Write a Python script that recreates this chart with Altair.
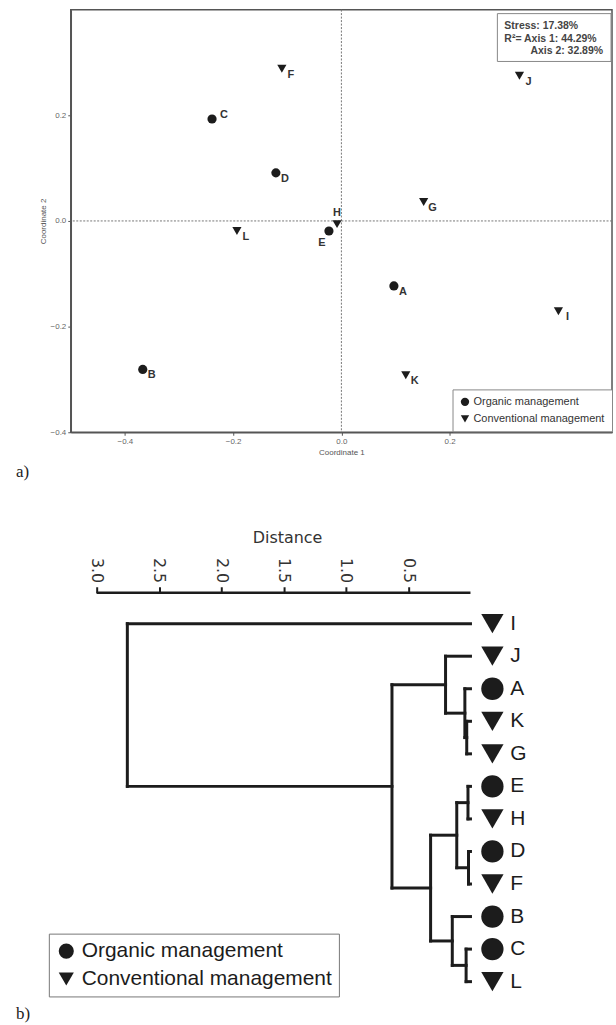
import altair as alt
import pandas as pd

# ---------------- panel a) NMDS ordination ----------------
sites = ["A", "B", "C", "D", "E", "F", "G", "H", "I", "J", "K", "L"]
coord1 = [0.097, -0.367, -0.239, -0.121, -0.023, -0.110, 0.152, -0.008, 0.401, 0.329, 0.119, -0.193]
coord2 = [-0.123, -0.281, 0.193, 0.091, -0.019, 0.288, 0.036, -0.006, -0.171, 0.275, -0.292, -0.019]
management = ["Organic management"] * 5 + ["Conventional management"] * 7
mgmt_levels = ["Organic management", "Conventional management"]
nmds_ticks = [-0.4, -0.2, 0.0, 0.2]
stress_lines = ["Stress: 17.38%", "R\u00b2= Axis 1: 44.29%", "Axis 2: 32.89%"]
panel_labels = ["a)", "b)"]

# ---------------- panel b) cluster dendrogram ----------------
leaf_order = ["I", "J", "A", "K", "G", "E", "H", "D", "F", "B", "C", "L"]
leaf_mgmt = ["Conventional management", "Conventional management", "Organic management",
             "Conventional management", "Conventional management", "Organic management",
             "Conventional management", "Organic management", "Conventional management",
             "Organic management", "Organic management", "Conventional management"]
merge_a = ["K", "A", "J", "E", "D", "EH", "C", "B", "EHDF", "JAKG", "I"]
merge_b = ["G", "KG", "AKG", "H", "F", "DF", "L", "CL", "BCL", "EHDFBCL", "JAKGEHDFBCL"]
merge_h = [0.03, 0.045, 0.20, 0.02, 0.016, 0.11, 0.035, 0.146, 0.32, 0.63, 2.754]
distance_ticks = [0.5, 1.0, 1.5, 2.0, 2.5, 3.0]

INK = "#1c1c1c"
FONT = "Liberation Sans"
W = 543
H1 = 424
H2 = 430

# ---------- build panel a ----------
nmds = pd.DataFrame({"site": sites, "c1": coord1, "c2": coord2, "mgmt": management})
label_place = {"C": "right", "H": "above", "E": "below-left"}
nmds["place"] = [label_place.get(s, "below-right") for s in sites]
place_offsets = {"below-right": (9, 6), "right": (12, -4), "above": (0, -11), "below-left": (-7, 12)}

shape_scale = alt.Scale(domain=mgmt_levels, range=["circle", "triangle-down"])
xs = alt.Scale(domain=[-0.5, 0.5], nice=False, zero=False)
ys = alt.Scale(domain=[-0.4, 0.4], nice=False, zero=False)

axis_style = dict(values=nmds_ticks, format=".1f", labelFontSize=8, titleFontSize=8,
                  titleFontWeight="normal", labelColor="#666", titleColor="#555",
                  tickSize=3, tickColor="#555", domainColor="#555", domainWidth=1.5,
                  labelPadding=2, titlePadding=3, labelFont=FONT, titleFont=FONT, grid=False)

zero_df = pd.DataFrame({"zero": [0.0]})
vline = alt.Chart(zero_df).mark_rule(color="#777", strokeWidth=1, strokeDash=[2, 1.5]).encode(
    x=alt.X("zero:Q", scale=xs))
hline = alt.Chart(zero_df).mark_rule(color="#777", strokeWidth=1, strokeDash=[2, 1.5]).encode(
    y=alt.Y("zero:Q", scale=ys))

points = alt.Chart(nmds).mark_point(filled=True, opacity=1, color=INK, size=85).encode(
    x=alt.X("c1:Q", scale=xs, axis=alt.Axis(title="Coordinate 1", **axis_style)),
    y=alt.Y("c2:Q", scale=ys, axis=alt.Axis(title="Coordinate 2", **axis_style)),
    shape=alt.Shape("mgmt:N", scale=shape_scale,
                    legend=alt.Legend(title=None, orient="none", legendX=383, legendY=381,
                                      strokeColor="#888", fillColor="white", padding=7,
                                      labelFontSize=11, labelFont=FONT, labelColor="#333",
                                      symbolSize=70, symbolFillColor=INK, symbolStrokeWidth=0,
                                      labelOffset=3, rowPadding=5, labelLimit=400)),
)

label_layers = []
for place, (dx, dy) in place_offsets.items():
    label_layers.append(
        alt.Chart(nmds).transform_filter(alt.datum.place == place)
        .mark_text(dx=dx, dy=dy, fontSize=11, fontWeight="bold", font=FONT, color="#333")
        .encode(x=alt.X("c1:Q", scale=xs), y=alt.Y("c2:Q", scale=ys), text="site:N")
    )

stats_box = alt.Chart(zero_df).mark_rect(fill="white", stroke="#888", strokeWidth=1).encode(
    x=alt.value(428), x2=alt.value(542), y=alt.value(4), y2=alt.value(52))
stats_text = [
    alt.Chart(zero_df).mark_text(text=stress_lines[0], align="left", baseline="middle",
                                 fontSize=10.5, fontWeight="bold", font=FONT, color="#444")
    .encode(x=alt.value(435), y=alt.value(16)),
    alt.Chart(zero_df).mark_text(text=stress_lines[1], align="left", baseline="middle",
                                 fontSize=10.5, fontWeight="bold", font=FONT, color="#444")
    .encode(x=alt.value(435), y=alt.value(29)),
    alt.Chart(zero_df).mark_text(text=stress_lines[2], align="right", baseline="middle",
                                 fontSize=10.5, fontWeight="bold", font=FONT, color="#444")
    .encode(x=alt.value(534), y=alt.value(42)),
]
a_label = alt.Chart(zero_df).mark_text(text=panel_labels[0], align="left", baseline="middle",
                                       fontSize=17, font="Liberation Serif", color="#222").encode(
    x=alt.value(-55), y=alt.value(H1 + 40))

top = alt.layer(vline, hline, points, *label_layers, stats_box, *stats_text, a_label).properties(
    width=W, height=H1, view=alt.ViewBackground(stroke="#555", strokeWidth=1.5, fill="white"))

# ---------- build panel b ----------
ypos = {name: i for i, name in enumerate(leaf_order)}
height = {name: 0.0 for name in leaf_order}
segs = []
for a, b, h in zip(merge_a, merge_b, merge_h):
    for child in (a, b):
        segs.append({"x": height[child], "x2": h, "y": ypos[child], "y2": ypos[child]})
    segs.append({"x": h, "x2": h, "y": ypos[a], "y2": ypos[b]})
    ypos[a + b] = (ypos[a] + ypos[b]) / 2
    height[a + b] = h
segs_df = pd.DataFrame(segs)

dx_scale = alt.Scale(domain=[-1.136, 3.208], reverse=True, nice=False, zero=False)
dy_scale = alt.Scale(domain=[-0.95, 12.22], reverse=True, nice=False, zero=False)

tree = alt.Chart(segs_df).mark_rule(color=INK, strokeWidth=3, strokeCap="square").encode(
    x=alt.X("x:Q", scale=dx_scale,
            axis=alt.Axis(orient="top", values=distance_ticks, format=".1f", domain=False,
                          labelAngle=90, labelFontSize=16, labelFont="DejaVu Sans",
                          labelColor="#333", labelPadding=4, tickSize=6, tickWidth=2,
                          tickColor=INK, title="Distance", titleFont="DejaVu Sans",
                          titleFontSize=16, titleFontWeight="normal", titleColor="#333",
                          titlePadding=12, titleX=217, titleAlign="center", grid=False)),
    x2="x2:Q",
    y=alt.Y("y:Q", scale=dy_scale, axis=None),
    y2="y2:Q",
)

axis_df = pd.DataFrame({"start": [max(distance_ticks)], "end": [0.0]})
axis_line = alt.Chart(axis_df).mark_rule(color=INK, strokeWidth=2.5).encode(
    x=alt.X("start:Q", scale=dx_scale), x2="end:Q", y=alt.value(0))

leaves = pd.DataFrame({"leaf": leaf_order, "idx": list(range(len(leaf_order))),
                       "h": [0.0] * len(leaf_order), "mgmt": leaf_mgmt})
leaf_marks = alt.Chart(leaves).mark_point(filled=True, opacity=1, color=INK, size=500, xOffset=22).encode(
    x=alt.X("h:Q", scale=dx_scale),
    y=alt.Y("idx:Q", scale=dy_scale),
    shape=alt.Shape("mgmt:N", scale=shape_scale,
                    legend=alt.Legend(title=None, orient="none", legendX=-22, legendY=342,
                                      strokeColor="#777", fillColor="white", padding=7,
                                      labelFontSize=21, labelFont=FONT, labelColor=INK,
                                      symbolSize=230, symbolFillColor=INK, symbolStrokeWidth=0,
                                      labelOffset=5, rowPadding=6, labelLimit=600)),
)
leaf_text = alt.Chart(leaves).mark_text(align="left", baseline="middle", dx=40, fontSize=21,
                                        font=FONT, color=INK).encode(
    x=alt.X("h:Q", scale=dx_scale), y=alt.Y("idx:Q", scale=dy_scale), text="leaf:N")

b_label = alt.Chart(zero_df).mark_text(text=panel_labels[1], align="left", baseline="middle",
                                       fontSize=17, font="Liberation Serif", color="#222").encode(
    x=alt.value(-55), y=alt.value(423))

bottom = alt.layer(tree, axis_line, leaf_marks, leaf_text, b_label).properties(
    width=W, height=H2, view=alt.ViewBackground(strokeWidth=0, fill="white"))

chart = alt.vconcat(top, bottom, spacing=161, bounds="flush").resolve_scale(
    x="independent", y="independent", shape="independent"
).resolve_legend(shape="independent").properties(
    padding={"left": 15, "top": 6, "right": 2, "bottom": 2},
    background="white",
).configure_view(strokeWidth=0)

chart.save("out.html", embed_options={"renderer": "svg", "actions": False})
